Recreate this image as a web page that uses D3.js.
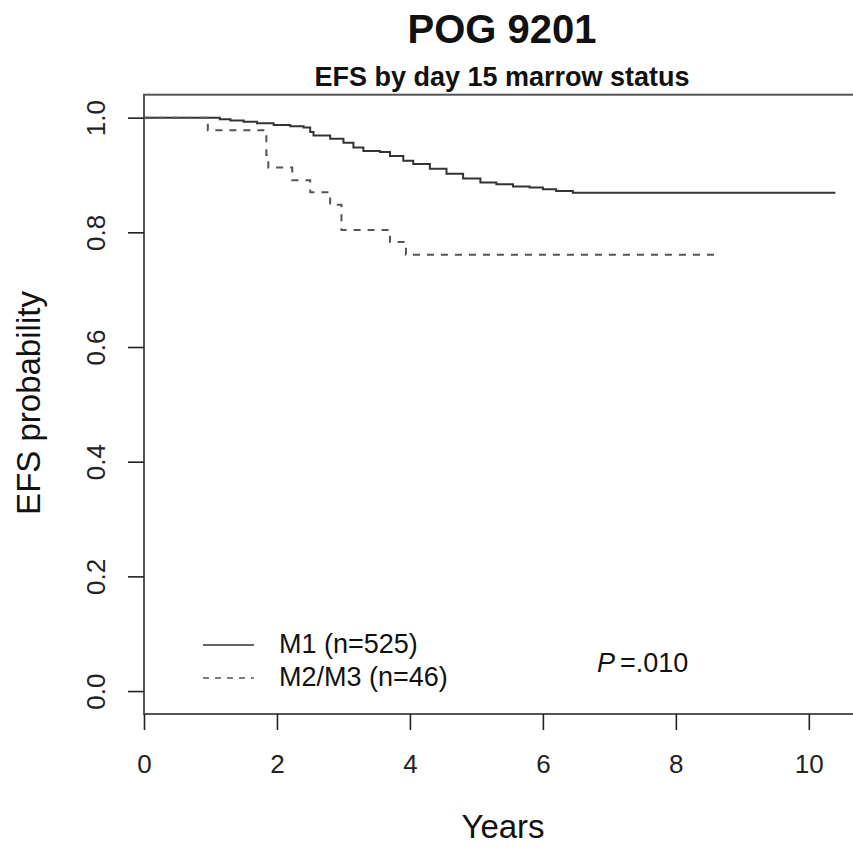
<!DOCTYPE html>
<html>
<head>
<meta charset="utf-8">
<script src="https://cdn.jsdelivr.net/npm/d3@7"></script>
<style>
  body { margin: 0; background: #fff; }
  svg { font-family: "Liberation Sans", Arial, Helvetica, sans-serif; }
</style>
</head>
<body>
<svg id="chart" width="853" height="850"></svg>
<script>

// Kaplan-Meier steps (years, EFS probability)

let m1Times  = [0, 1.14, 1.3, 1.5, 1.7, 1.95, 2.2, 2.4, 2.5, 2.55, 2.8, 3.0, 3.15, 3.3, 3.55, 3.7, 3.9, 4.05, 4.3, 4.55, 4.8, 5.06, 5.3, 5.55, 5.8, 6.0, 6.2, 6.45, 10.4];
let m1Values = [1.0, 0.997, 0.995, 0.993, 0.990, 0.987, 0.985, 0.983, 0.975, 0.969, 0.963, 0.956, 0.948, 0.942, 0.940, 0.933, 0.925, 0.919, 0.911, 0.902, 0.894, 0.887, 0.884, 0.880, 0.878, 0.875, 0.872, 0.869, 0.869];

let m23Times  = [0, 0.96, 1.84, 1.87, 2.23, 2.5, 2.8, 2.97, 3.7, 3.94, 8.64];
let m23Values = [1.0, 0.978, 0.935, 0.913, 0.891, 0.870, 0.848, 0.804, 0.783, 0.761, 0.761];

let xTicks = [0, 2, 4, 6, 8, 10];
let yTicks = [0, 0.2, 0.4, 0.6, 0.8, 1.0];

let seriesNames = ["M1 (n=525)", "M2/M3 (n=46)"];
let pValueLabel = "=.010";


let svg = d3.select("#chart");

let x = d3.scaleLinear().domain([0, 10.8]).range([144, 862]);
let y = d3.scaleLinear().domain([-0.04, 1.04]).range([714, 94.7]);

let ink = "#222";

// titles
svg.append("text")
    .attr("x", 502).attr("y", 43)
    .attr("text-anchor", "middle")
    .attr("font-size", 40).attr("font-weight", "bold")
    .attr("fill", "#111")
    .text("POG 9201");

svg.append("text")
    .attr("x", 502).attr("y", 86)
    .attr("text-anchor", "middle")
    .attr("font-size", 27).attr("font-weight", "bold")
    .attr("fill", "#111")
    .text("EFS by day 15 marrow status");

// plot box (right edge falls outside the picture)
svg.append("rect")
    .attr("x", x.range()[0]).attr("y", y.range()[1])
    .attr("width", x.range()[1] - x.range()[0])
    .attr("height", y.range()[0] - y.range()[1])
    .attr("fill", "none")
    .attr("stroke", "#555")
    .attr("stroke-width", 2);

// axes
let xAxis = svg.append("g")
    .attr("transform", `translate(0,${y.range()[0]})`)
    .call(d3.axisBottom(x).tickValues(xTicks).tickSize(16).tickSizeOuter(0).tickPadding(25));

let yAxis = svg.append("g")
    .attr("transform", `translate(${x.range()[0]},0)`)
    .call(d3.axisLeft(y).tickValues(yTicks).tickFormat(d3.format(".1f")).tickSize(16).tickSizeOuter(0));

[xAxis, yAxis].forEach(a => {
    a.select(".domain").remove();
    a.selectAll(".tick line").attr("stroke", ink).attr("stroke-width", 1.6);
    a.selectAll(".tick text")
        .attr("font-size", 26)
        .attr("fill", "#222")
        .attr("font-family", "Liberation Sans, Arial, sans-serif");
});

// R style: y labels turned to read upward
yAxis.selectAll(".tick text")
    .attr("x", 0).attr("y", -39).attr("dy", 0)
    .attr("text-anchor", "middle")
    .attr("transform", "rotate(-90)");

// axis titles
svg.append("text")
    .attr("x", 503).attr("y", 838)
    .attr("text-anchor", "middle")
    .attr("font-size", 33)
    .attr("fill", "#111")
    .text("Years");

svg.append("text")
    .attr("transform", "translate(40,403) rotate(-90)")
    .attr("text-anchor", "middle")
    .attr("font-size", 33)
    .attr("fill", "#111")
    .text("EFS probability");

// survival curves
let line = d3.line()
    .x(d => x(d[0]))
    .y(d => y(d[1]))
    .curve(d3.curveStepAfter);

let m1 = m1Times.map((t, i) => [t, m1Values[i]]);
let m23 = m23Times.map((t, i) => [t, m23Values[i]]);

svg.append("path")
    .datum(m1)
    .attr("d", line)
    .attr("fill", "none")
    .attr("stroke", "#333")
    .attr("stroke-width", 2);

svg.append("path")
    .datum(m23)
    .attr("d", line)
    .attr("fill", "none")
    .attr("stroke", "#555")
    .attr("stroke-width", 2)
    .attr("stroke-dasharray", "7,7");

// legend
let legend = svg.append("g").attr("transform", "translate(203,645)");

seriesNames.forEach((name, i) => {
    let row = legend.append("g").attr("transform", `translate(0,${i * 33})`);
    row.append("line")
        .attr("x1", 0).attr("x2", 51)
        .attr("stroke", i == 0 ? "#333" : "#555")
        .attr("stroke-width", 1.6)
        .attr("stroke-dasharray", i == 0 ? null : "6,6");
    row.append("text")
        .attr("x", 76).attr("y", 8)
        .attr("font-size", 27)
        .attr("fill", "#111")
        .text(name);
});

// p value
let p = svg.append("text")
    .attr("x", 597).attr("y", 672)
    .attr("font-size", 27)
    .attr("fill", "#111");
p.append("tspan").attr("font-style", "italic").text("P");
p.append("tspan").attr("dx", 5).text(pValueLabel);

</script>
</body>
</html>
